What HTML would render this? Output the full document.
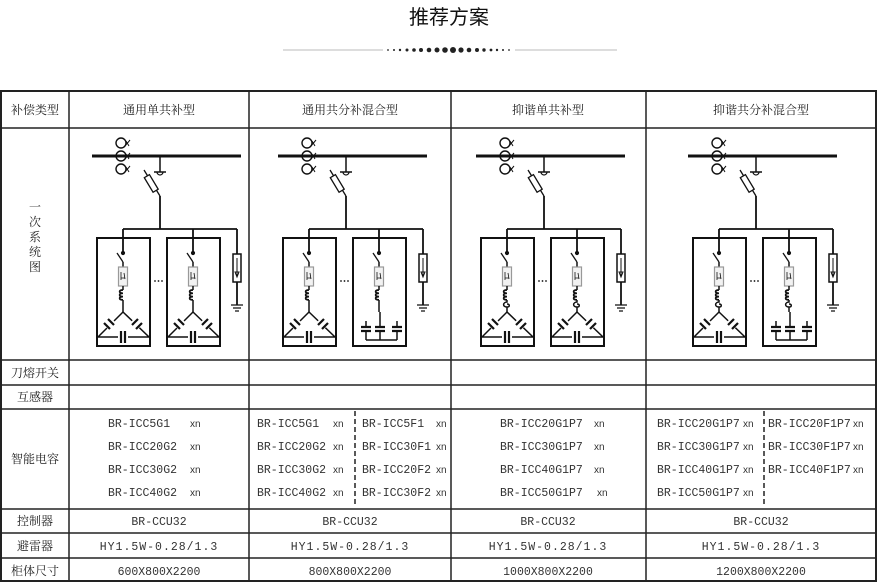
<!DOCTYPE html>
<html><head><meta charset="utf-8"><style>
html,body{margin:0;padding:0;background:#fff;}
svg{display:block;}
.t{font-family:"Liberation Serif","Noto Serif CJK SC",serif;font-size:12px;fill:#222;}
.m{font-family:"Liberation Mono","Noto Sans CJK SC",monospace;font-size:11.5px;fill:#333;}
.x{font-family:"Liberation Sans",sans-serif;font-size:10px;fill:#333;}
</style></head><body>
<svg width="878" height="582" viewBox="0 0 878 582" xmlns="http://www.w3.org/2000/svg">
<defs>
<g id="top" stroke="#111" fill="none">
  <line x1="92" y1="156" x2="241" y2="156" stroke-width="3"/>
  <circle cx="121" cy="143" r="5" stroke-width="1.4"/>
  <circle cx="121" cy="156" r="5" stroke-width="1.4"/>
  <circle cx="121" cy="169" r="5" stroke-width="1.4"/>
  <path d="M125 146l5-6M126 141l3 5M125 159l5-6M126 154l3 5M125 172l5-6M126 167l3 5" stroke-width="1"/>
  <line x1="160" y1="156" x2="160" y2="172" stroke-width="1.5"/>
  <line x1="154" y1="172" x2="166" y2="172" stroke-width="1.5"/>
  <path d="M157 172a3 3 0 0 0 6 0" stroke-width="1.2"/>
  <line x1="144" y1="170" x2="160" y2="196" stroke-width="1.3"/>
  <rect x="148" y="175" width="6" height="17" transform="rotate(-31 151 183)" stroke-width="1.3" fill="#fff"/>
  <line x1="160" y1="196" x2="160" y2="229" stroke-width="1.8"/>
  <line x1="123" y1="229" x2="237" y2="229" stroke-width="1.8"/>
  <line x1="237" y1="229" x2="237" y2="254" stroke-width="1.8"/>
  <rect x="233" y="254" width="8" height="28" stroke-width="1.5"/>
  <path d="M237 258v18M235 272l2 5 2-5z" stroke-width="1"/>
  <line x1="237" y1="282" x2="237" y2="305" stroke-width="1.8"/>
  <path d="M231 305h12M233 308h8M235 311h4" stroke-width="1.3"/>
  <circle cx="155" cy="281" r="0.9" fill="#111" stroke="none"/><circle cx="158.5" cy="281" r="0.9" fill="#111" stroke="none"/><circle cx="162" cy="281" r="0.9" fill="#111" stroke="none"/>
</g>
<g id="upper" stroke="#111" fill="none">
  <rect x="97" y="238" width="53" height="108" stroke-width="2"/>
  <line x1="123" y1="229" x2="123" y2="253" stroke-width="1.8"/>
  <circle cx="123" cy="253" r="1.6" fill="#111"/>
  <line x1="117" y1="253" x2="123" y2="262" stroke-width="1.3"/>
  <line x1="123" y1="262" x2="123" y2="267" stroke-width="1.5"/>
  <rect x="118.5" y="267" width="9" height="19" stroke="#999" stroke-width="1.2" fill="#f2f2f2"/>
  <path d="M121 272v8M124 273l1 6M121 278h4" stroke-width="0.8"/>
  <line x1="123" y1="286" x2="123" y2="290" stroke-width="1.5"/>
  <path d="M123 290c-4.5 0-4.5 3.3 0 3.3c-4.5 0-4.5 3.3 0 3.3c-4.5 0-4.5 3.3 0 3.3" stroke-width="1.7"/>
</g>
<g id="delta" stroke="#111" fill="none">
  <path d="M98 337L123 312L149 337Z" stroke-width="1.5"/>
  <rect x="118" y="332" width="10" height="10" fill="#fff" stroke="none"/>
  <path d="M121 331v12M125 331v12" stroke-width="2.2"/>
  <rect x="105" y="319" width="10" height="10" fill="#fff" stroke="none" transform="rotate(45 110 324)"/>
  <path d="M104 323l6 6M108 319l6 6" stroke-width="2.2"/>
  <rect x="131" y="319" width="10" height="10" fill="#fff" stroke="none" transform="rotate(45 136 324)"/>
  <path d="M138 319l-6 6M142 323l-6 6" stroke-width="2.2"/>
</g>
<g id="star" stroke="#111" fill="none">
  <path d="M110 321v19M124 312v28M141 321v19M110 340h31" stroke-width="1.5"/>
  <rect x="104" y="326" width="43" height="6" fill="#fff" stroke="none"/>
  <path d="M105 327h10M105 331h10M119 327h10M119 331h10M136 327h10M136 331h10" stroke-width="2.2"/>
</g>
<g id="boxD"><use href="#upper"/><line x1="123" y1="300" x2="123" y2="312" stroke="#111" stroke-width="1.5"/><use href="#delta"/></g>
<g id="det"><path d="M123 300v2c-4 0-5 5 0 5c3 0 3-3 0-3" stroke="#111" fill="none" stroke-width="1.5"/><line x1="123" y1="307" x2="123" y2="312" stroke="#111" stroke-width="1.5"/></g>
<g id="boxDD"><use href="#upper"/><use href="#det"/><use href="#delta"/></g>
<g id="boxS"><use href="#upper"/><line x1="123" y1="300" x2="123" y2="312" stroke="#111" stroke-width="1.5"/><use href="#star"/></g>
<g id="boxDS"><use href="#upper"/><use href="#det"/><use href="#star"/></g>
</defs>

<text x="449" y="24" text-anchor="middle" font-family="Liberation Sans,'Noto Sans CJK SC',sans-serif" font-size="20" fill="#111">推荐方案</text>
<line x1="283" y1="50" x2="383" y2="50" stroke="#bbb"/>
<line x1="515" y1="50" x2="617" y2="50" stroke="#bbb"/>
<g fill="#222">
<circle cx="388" cy="50" r="0.9"/><circle cx="394" cy="50" r="1"/><circle cx="400" cy="50" r="1.2"/><circle cx="407" cy="50" r="1.5"/><circle cx="414" cy="50" r="1.8"/><circle cx="421" cy="50" r="2"/><circle cx="429" cy="50" r="2.3"/><circle cx="437" cy="50" r="2.5"/><circle cx="445" cy="50" r="2.8"/><circle cx="453" cy="50" r="3"/><circle cx="461" cy="50" r="2.6"/><circle cx="469" cy="50" r="2.3"/><circle cx="477" cy="50" r="2"/><circle cx="484" cy="50" r="1.7"/><circle cx="491" cy="50" r="1.4"/><circle cx="497" cy="50" r="1.2"/><circle cx="503" cy="50" r="1"/><circle cx="509" cy="50" r="0.9"/>
</g>

<g stroke="#222" fill="none">
<rect x="1" y="91" width="875" height="490" stroke-width="2"/>
<path d="M69 91V582M249 91V582M451 91V582M646 91V582" stroke-width="1.5"/>
<path d="M1 128H877M1 360H877M1 385H877M1 409H877M1 509H877M1 533H877M1 558H877" stroke-width="1.5"/>
<path d="M355 411V507M764 411V507" stroke-width="1.5" stroke-dasharray="5,3"/>
</g>

<g class="t" text-anchor="middle">
<text x="35" y="114">补偿类型</text>
<text x="159" y="114">通用单共补型</text>
<text x="350" y="114">通用共分补混合型</text>
<text x="548" y="114">抑谐单共补型</text>
<text x="761" y="114">抑谐共分补混合型</text>
<text x="35" y="377">刀熔开关</text>
<text x="35" y="401">互感器</text>
<text x="35" y="463">智能电容</text>
<text x="35" y="525">控制器</text>
<text x="35" y="550">避雷器</text>
<text x="35" y="575">柜体尺寸</text>
</g>
<g class="t" text-anchor="middle">
<text x="35" y="211">一</text><text x="35" y="226">次</text><text x="35" y="241">系</text><text x="35" y="256">统</text><text x="35" y="271">图</text>
</g>

<use href="#top"/><use href="#boxD"/><use href="#boxD" transform="translate(70 0)"/>
<g transform="translate(186 0)"><use href="#top"/><use href="#boxD"/><use href="#boxS" transform="translate(70 0)"/></g>
<g transform="translate(384 0)"><use href="#top"/><use href="#boxDD"/><use href="#boxDD" transform="translate(70 0)"/></g>
<g transform="translate(596 0)"><use href="#top"/><use href="#boxDD"/><use href="#boxDS" transform="translate(70 0)"/></g>

<g class="m">
<text x="108" y="427">BR-ICC5G1</text><text x="108" y="450">BR-ICC20G2</text><text x="108" y="473">BR-ICC30G2</text><text x="108" y="496">BR-ICC40G2</text>
<text x="257" y="427">BR-ICC5G1</text><text x="257" y="450">BR-ICC20G2</text><text x="257" y="473">BR-ICC30G2</text><text x="257" y="496">BR-ICC40G2</text>
<text x="362" y="427">BR-ICC5F1</text><text x="362" y="450">BR-ICC30F1</text><text x="362" y="473">BR-ICC20F2</text><text x="362" y="496">BR-ICC30F2</text>
<text x="500" y="427">BR-ICC20G1P7</text><text x="500" y="450">BR-ICC30G1P7</text><text x="500" y="473">BR-ICC40G1P7</text><text x="500" y="496">BR-ICC50G1P7</text>
<text x="657" y="427">BR-ICC20G1P7</text><text x="657" y="450">BR-ICC30G1P7</text><text x="657" y="473">BR-ICC40G1P7</text><text x="657" y="496">BR-ICC50G1P7</text>
<text x="768" y="427">BR-ICC20F1P7</text><text x="768" y="450">BR-ICC30F1P7</text><text x="768" y="473">BR-ICC40F1P7</text>
</g>
<g class="x">
<text x="190" y="427">xn</text><text x="190" y="450">xn</text><text x="190" y="473">xn</text><text x="190" y="496">xn</text>
<text x="333" y="427">xn</text><text x="333" y="450">xn</text><text x="333" y="473">xn</text><text x="333" y="496">xn</text>
<text x="436" y="427">xn</text><text x="436" y="450">xn</text><text x="436" y="473">xn</text><text x="436" y="496">xn</text>
<text x="594" y="427">xn</text><text x="594" y="450">xn</text><text x="594" y="473">xn</text><text x="597" y="496">xn</text>
<text x="743" y="427">xn</text><text x="743" y="450">xn</text><text x="743" y="473">xn</text><text x="743" y="496">xn</text>
<text x="853" y="427">xn</text><text x="853" y="450">xn</text><text x="853" y="473">xn</text>
</g>
<g class="m" text-anchor="middle">
<text x="159" y="525">BR-CCU32</text><text x="350" y="525">BR-CCU32</text><text x="548" y="525">BR-CCU32</text><text x="761" y="525">BR-CCU32</text>
<text x="159" y="550" letter-spacing="1">HY1.5W-0.28/1.3</text><text x="350" y="550" letter-spacing="1">HY1.5W-0.28/1.3</text><text x="548" y="550" letter-spacing="1">HY1.5W-0.28/1.3</text><text x="761" y="550" letter-spacing="1">HY1.5W-0.28/1.3</text>
<text x="159" y="575">600X800X2200</text><text x="350" y="575">800X800X2200</text><text x="548" y="575">1000X800X2200</text><text x="761" y="575">1200X800X2200</text>
</g>
</svg>
</body></html>
